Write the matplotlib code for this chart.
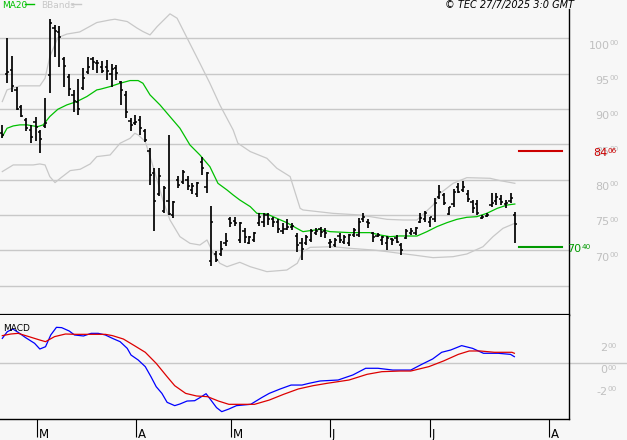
import matplotlib
matplotlib.use('Agg')
import matplotlib.pyplot as plt
import matplotlib.transforms as mtrans
import numpy as np

# ---------------- data ----------------
highs = [8775, 10002, 9752, 9308, 9058, 8869, 8775, 8893, 8704, 9152,
         10271, 10191, 10176, 9742, 9497, 9270, 9421, 9577, 9733, 9733,
         9686, 9685, 9686, 9638, 9624, 9402, 9260, 8869, 8916, 8902,
         8713, 8444, 8161, 8170, 7910, 8633, 7703, 8052, 8137, 8052,
         7948, 7972, 8326, 8113, 7622, 6995, 7137, 7250, 7467, 7467,
         7405, 7311, 7203, 7264, 7523, 7523, 7533, 7476, 7438, 7382,
         7438, 7382, 7240, 7170, 7217, 7297, 7311, 7335, 7320, 7155,
         7170, 7240, 7217, 7231, 7311, 7452, 7523, 7438, 7264, 7240,
         7203, 7203, 7170, 7217, 7110, 7300, 7311, 7335, 7533, 7561,
         7476, 7736, 7925, 7807, 7618, 7863, 7958, 7986, 7854, 7712,
         7712, 7500, 7523, 7807, 7816, 7783, 7712, 7807, 7547]
lows = [8586, 9365, 9247, 8987, 8883, 8694, 8524, 8553, 8383, 8727,
        9223, 9742, 9600, 9308, 9185, 8963, 8916, 9270, 9497, 9553,
        9506, 9516, 9410, 9317, 9411, 9057, 8869, 8694, 8774, 8633,
        8538, 7925, 7278, 7769, 7523, 7500, 7453, 7877, 7939, 7854,
        7797, 7750, 8066, 7807, 6773, 6839, 6919, 7061, 7335, 7344,
        7108, 7099, 7089, 7122, 7344, 7335, 7358, 7325, 7240, 7231,
        7288, 7288, 6981, 6863, 7075, 7122, 7217, 7193, 7170, 7028,
        7052, 7099, 7089, 7061, 7193, 7193, 7405, 7311, 7122, 7184,
        7075, 7004, 7075, 7099, 6934, 7160, 7217, 7217, 7382, 7405,
        7335, 7405, 7722, 7641, 7500, 7618, 7807, 7830, 7689, 7523,
        7500, 7438, 7467, 7618, 7641, 7641, 7594, 7674, 7099]
opens = [8666, 9500, 9553, 9270, 9034, 8840, 8700, 8822, 8680, 8760,
         9483, 10143, 10096, 9700, 9450, 9200, 9100, 9300, 9520, 9700,
         9650, 9600, 9600, 9500, 9580, 9380, 9200, 8830, 8800, 8850,
         8690, 8400, 8100, 7800, 7550, 7700, 7500, 8000, 7960, 8000,
         7850, 7800, 8250, 7900, 6850, 6950, 6950, 7100, 7440, 7420,
         7150, 7280, 7110, 7150, 7380, 7400, 7500, 7450, 7400, 7280,
         7300, 7330, 7200, 7100, 7100, 7150, 7250, 7300, 7280, 7100,
         7080, 7200, 7120, 7100, 7220, 7220, 7450, 7400, 7240, 7200,
         7150, 7100, 7160, 7180, 7080, 7180, 7250, 7240, 7400, 7450,
         7400, 7450, 7760, 7780, 7520, 7650, 7900, 7850, 7800, 7680,
         7650, 7460, 7490, 7640, 7700, 7720, 7650, 7700, 7500]
closes = [8633, 9530, 9327, 9006, 8902, 8727, 8600, 8742, 8572, 8798,
          10214, 10110, 10025, 9610, 9280, 9119, 8996, 9435, 9600, 9671,
          9648, 9544, 9544, 9562, 9506, 9270, 8963, 8774, 8821, 8727,
          8562, 8066, 7703, 8052, 7877, 7510, 7689, 7925, 8113, 7910,
          7910, 7948, 8161, 8090, 7405, 6863, 7014, 7137, 7382, 7382,
          7382, 7193, 7184, 7240, 7467, 7500, 7438, 7405, 7297, 7297,
          7335, 7344, 7075, 7014, 7184, 7278, 7278, 7264, 7250, 7122,
          7146, 7146, 7184, 7217, 7288, 7405, 7467, 7382, 7193, 7217,
          7184, 7170, 7146, 7122, 7004, 7270, 7278, 7311, 7452, 7533,
          7467, 7665, 7830, 7665, 7618, 7830, 7830, 7901, 7722, 7594,
          7533, 7476, 7500, 7665, 7759, 7688, 7665, 7736, 7372]

# MA20 (read at trading-day positions)
ma_day = [0, 1, 2.3, 3.7, 5.2, 6.5, 7.5, 8.6, 10, 11.7, 13.6, 15.7, 17.8, 19.9,
          20.6, 22.7, 24.8, 26.9, 28.6, 29.6, 31.1, 33.2, 35.3, 37.4, 39.5,
          41.6, 43.7, 45.4, 47.3, 48.6, 50, 52.2, 53.6, 55.7, 57.8, 59.9, 62,
          63.3, 64.8, 66.9, 69, 73.2, 77.4, 79.5, 81.6, 83.7, 87.3, 89.4,
          91.5, 93.6, 95.7, 97.8, 99.9, 102, 104.2, 106.3, 107.9]
ma_val = [8609, 8727, 8760, 8775, 8775, 8760, 8751, 8775, 8893, 8996, 9058,
          9105, 9176, 9270, 9279, 9317, 9364, 9402, 9402, 9364, 9199, 9057,
          8892, 8727, 8491, 8349, 8184, 7948, 7854, 7783, 7712, 7618, 7523,
          7514, 7452, 7391, 7311, 7264, 7278, 7297, 7264, 7250, 7250, 7217,
          7193, 7203, 7202, 7264, 7335, 7391, 7438, 7467, 7476, 7523, 7594,
          7641, 7655]

# Bollinger bands
up_day = [0, 1, 3.7, 7.9, 9, 10, 11.7, 13.6, 16.3, 19.9, 22.7, 23.7, 26.3,
          28.4, 29.6, 31.1, 32.6, 35.3, 36.8, 39.1, 41.6, 43.7, 45.8, 48.6,
          49.6, 52.2, 55.7, 57.8, 60.6, 62.7, 63.3, 69.6, 75.3, 81, 84.4,
          87.3, 90.7, 92.2, 94.9, 97.8, 102.7, 104.8, 107.9]
up_val = [9105, 9270, 9327, 9327, 9435, 9740, 10010, 10060, 10090, 10223,
          10260, 10270, 10237, 10143, 10096, 10048, 10166, 10346, 10284,
          9978, 9647, 9364, 9057, 8703, 8515, 8397, 8302, 8161, 8043, 7594,
          7571, 7523, 7500, 7438, 7429, 7429, 7641, 7807, 7948, 8028, 8019,
          7986, 7948]
lo_day = [0, 2.3, 6.5, 7.9, 9, 10, 11.1, 12.2, 14.3, 16.4, 18.5, 19.9, 22.7,
          24.8, 26.9, 27.9, 28.6, 30.1, 31.1, 32.6, 33.8, 35.3, 37.4, 39.5,
          41.6, 43.1, 44.4, 45.8, 47.3, 50, 52.2, 55.7, 59.9, 62.1, 63.3, 64.8,
          69.6, 73.2, 78.1, 81, 83.7, 86.5, 90.7, 94.9, 97.8, 101.2, 103.3,
          105.4, 107.9]
lo_val = [8114, 8208, 8208, 8222, 8208, 8043, 7958, 8019, 8128, 8147, 8222,
          8326, 8349, 8515, 8585, 8656, 8633, 8538, 8326, 7995, 7712, 7429,
          7193, 7099, 7075, 7146, 6957, 6816, 6768, 6830, 6768, 6698, 6721,
          6816, 6981, 7042, 7051, 7028, 7004, 6981, 6957, 6934, 6896, 6910,
          6948, 7051, 7193, 7311, 7382]

resistance = 8406
support = 7040

# MACD
macd_day = [0, 1.05, 2.2, 3.35, 4.9, 6.8, 7.9, 9.1, 10.2, 11.4, 12.5, 14.1,
            15.2, 17.1, 18.7, 20.2, 21.7, 23.2, 24.8, 26.3, 27.1, 28.6, 30.1,
            31.3, 32.4, 33.6, 34.7, 36.3, 37.4, 38.9, 40.5, 41.6, 42.9, 43.9,
            45.1, 46.2, 47.7, 49.3, 52.3, 54.6, 56.2, 58.5, 60.8, 63.1, 64.6,
            66.9, 70.7, 73.8, 76.5, 79.1, 82.2, 86, 88.3, 90.6, 92.5, 94.4,
            96.7, 99, 101.3, 104.4, 107, 107.8]
macd_val = [222, 283, 308, 277, 229, 177, 125, 146, 253, 323, 320, 289, 253,
            244, 268, 268, 253, 222, 192, 131, 70, 25, -36, -128, -219, -280,
            -362, -392, -377, -350, -347, -319, -283, -340, -410, -447, -423,
            -392, -380, -319, -280, -240, -204, -204, -188, -167, -158, -112,
            -51, -51, -67, -67, -15, 34, 95, 116, 156, 131, 86, 86, 76, 55]
sig_day = [0, 1.8, 3.35, 5.6, 7.9, 9.1, 11, 13.3, 15.6, 18.7, 21.7, 23.2,
           25.5, 27.8, 30.1, 32.4, 34.7, 36.3, 38.6, 40.9, 43.2, 45.5, 47.7,
           50.1, 53.1, 56.2, 59.2, 62.3, 65.4, 68.4, 73, 76.8, 79.9, 83.7, 86,
           89.8, 92.9, 96, 98.3, 100.6, 103.6, 107.3, 107.8]
sig_val = [247, 262, 268, 238, 207, 192, 238, 262, 259, 259, 259, 247, 216,
           156, 95, -6, -128, -210, -280, -304, -310, -350, -380, -380, -380,
           -341, -289, -240, -210, -188, -158, -106, -82, -76, -76, -36, 16,
           76, 107, 107, 95, 95, 86]

month_pos = [7.3, 28.2, 48.2, 69.0, 90.1, 115.1]
month_lab = ['M', 'A', 'M', 'J', 'J', 'A']
price_ticks = [6500, 7000, 7500, 8000, 8500, 9000, 9500, 10000]
macd_ticks = [200, 0, -200]

# ---------------- layout ----------------
W, H = 627, 440
fig = plt.figure(figsize=(W / 100, H / 100), dpi=100)
bg = '#f7f7f7'
fig.patch.set_facecolor(bg)


def box(x0, y0, x1, y1):
    return [x0 / W, 1 - y1 / H, (x1 - x0) / W, (y1 - y0) / H]


ax = fig.add_axes(box(0, 9, 569, 315))
axm = fig.add_axes(box(0, 315, 569, 419))
px_per_day = 4.75
x_left = -2.3 / px_per_day
x_right = (569 - 2.3) / px_per_day
for a in (ax, axm):
    a.set_facecolor(bg)
    a.set_xlim(x_left, x_right)
    a.tick_params(left=False, labelleft=False, right=False, labelright=False)
ax.set_ylim(6084.5, 10414.6)
axm.set_ylim(-514, 435.5)

# spines
for s in ('top', 'left'):
    ax.spines[s].set_visible(False)
ax.spines['bottom'].set_linewidth(1.6)
ax.spines['right'].set_linewidth(1.0)
ax.tick_params(bottom=False, labelbottom=False)
axm.spines['top'].set_visible(False)
axm.spines['left'].set_visible(False)
axm.spines['right'].set_linewidth(1.0)
axm.spines['bottom'].set_linewidth(1.0)

grid_c = '#c8c8c8'
for p in price_ticks:
    ax.axhline(p, color=grid_c, lw=1.0, zorder=0)
axm.axhline(0, xmin=0, xmax=W / 569, color=grid_c, lw=1.0, zorder=0, clip_on=False)

# bands and MA
ax.plot(up_day, up_val, color='#c8c8c8', lw=0.9, zorder=1)
ax.plot(lo_day, lo_val, color='#c8c8c8', lw=0.9, zorder=1)
ax.plot(ma_day, ma_val, color='#00c000', lw=0.9, zorder=2)

# OHLC bars
idx = np.arange(len(closes))
tick = 0.45
ax.vlines(idx, lows, highs, color='black', lw=1.25, zorder=3)
ax.hlines(opens, idx - tick, idx, color='black', lw=1.1, zorder=3)
ax.hlines(closes, idx, idx + tick, color='black', lw=1.1, zorder=3)

# resistance / support lines
ax.axhline(resistance, xmin=519 / 569, xmax=562 / 569, color='#cc0000', lw=1.5)
ax.axhline(support, xmin=519 / 569, xmax=562 / 569, color='#009900', lw=1.5)

# MACD
axm.plot(macd_day, macd_val, color='#0000ff', lw=0.9)
axm.plot(sig_day, sig_val, color='#dd0000', lw=0.9)

# month ticks
axm.set_xticks(month_pos)
axm.set_xticklabels([])
axm.tick_params(axis='x', direction='out', length=13, width=0.8, color='black')
lab_tr = mtrans.blended_transform_factory(axm.transData, fig.transFigure)
lab_tr = mtrans.offset_copy(lab_tr, x=1.5, y=0, units='dots')
for pos, lab in zip(month_pos, month_lab):
    axm.text(pos, 1 - 438 / H, lab, transform=lab_tr, ha='left', va='baseline',
             fontsize=8.5, color='black', clip_on=False)


# right-hand value labels: big part + small raised part
def value_label(axis, val, big, small, color, xsplit, dy_big, dy_small, z=3):
    base = mtrans.blended_transform_factory(fig.transFigure, axis.transData)
    t_big = mtrans.offset_copy(base, x=0, y=dy_big, units='dots')
    t_small = mtrans.offset_copy(base, x=0.5, y=dy_small, units='dots')
    axis.text(xsplit / W, val, big, transform=t_big, ha='right', va='baseline',
              fontsize=8, color=color, clip_on=False, zorder=z)
    axis.text(xsplit / W, val, small, transform=t_small, ha='left', va='baseline',
              fontsize=5.2, color=color, clip_on=False, zorder=z)


lab_c = '#c0c0c0'
for p in price_ticks:
    if p < 7000:
        continue
    value_label(ax, p, str(p // 100), '00', lab_c, 609.5, -10.3, -6.8)
for m in macd_ticks:
    big = str(m // 100) if m != 0 else '0'
    value_label(axm, m, big, '00', lab_c, 607.5, -10.3, -6.8)

# the red label sits over the gray 8500 label, as in the reference
value_label(ax, resistance, str(resistance // 100), '%02d' % (resistance % 100),
            '#cc0000', 607, -5, -2, z=5)
value_label(ax, support, str(support // 100), '%02d' % (support % 100),
            '#009900', 581.5, -4.5, -1.5, z=5)

# legend and header texts
fig.text(2 / W, 1 - 8 / H, 'MA20', color='#00c000', fontsize=6.5,
         ha='left', va='baseline')
fig.add_artist(plt.Line2D([25 / W, 34 / W], [1 - 4.5 / H, 1 - 4.5 / H],
                          color='#00c000', lw=1.0))
fig.text(41 / W, 1 - 8 / H, 'BBands', color='#c8c8c8', fontsize=6.5,
         ha='left', va='baseline')
fig.add_artist(plt.Line2D([72 / W, 81 / W], [1 - 4.5 / H, 1 - 4.5 / H],
                          color='#c8c8c8', lw=1.0))
fig.text(574 / W, 1 - 8.3 / H, '\u00a9 TEC 27/7/2025 3:0 GMT', color='black',
         fontsize=7, style='italic', ha='right', va='baseline')
fig.text(3 / W, 1 - 331 / H, 'MACD', color='black', fontsize=6.5,
         ha='left', va='baseline')

fig.savefig('out.png', dpi=100, facecolor=bg)
